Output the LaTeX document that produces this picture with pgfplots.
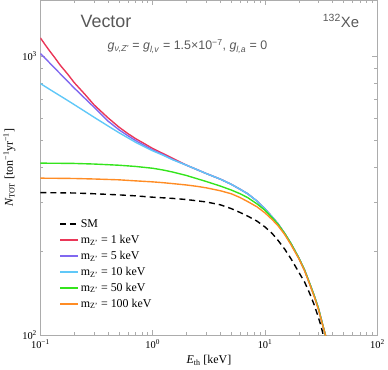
\documentclass[border=0pt]{standalone}
\usepackage{fontspec}
\setmainfont{Liberation Serif}
\newfontfamily\helv{Liberation Sans}
\usepackage{pgfplots}
\pgfplotsset{compat=1.18}
\definecolor{cred}{RGB}{234,55,88}
\definecolor{cpurple}{RGB}{128,104,240}
\definecolor{ccyan}{RGB}{96,200,248}
\definecolor{cgreen}{RGB}{52,228,28}
\definecolor{corange}{RGB}{255,140,36}
\definecolor{txtgray}{RGB}{88,88,88}

\begin{document}
\begin{tikzpicture}
\begin{axis}[
    scale only axis,
    width=339pt, height=337pt,
    xmode=log, ymode=log,
    xmin=0.1, xmax=100, ymin=100, ymax=1580,
    axis line style={gray!65, line width=0.6pt},
    tick style={gray!65, line width=0.5pt},
    tick align=inside,
    major tick length=5pt, minor tick length=3pt,
    xtick={0.1,1,10,100},
    xticklabels={10\textsuperscript{−1},10\textsuperscript{0},10\textsuperscript{1},10\textsuperscript{2}},
    minor xtick={0.2,0.3,0.4,0.5,0.6,0.7,0.8,0.9,2,3,4,5,6,7,8,9,20,30,40,50,60,70,80,90},
    ytick={100,1000},
    yticklabels={10\textsuperscript{2},10\textsuperscript{3}},
    minor ytick={200,300,400,500,600,700,800,900},
    ticklabel style={font=\fontsize{10.5}{12}\selectfont},
    xticklabel style={yshift=-1pt},
    xlabel={\textit{E}\textsubscript{th} [keV]},
    ylabel={\textit{N}\textsubscript{TOT} [ton\textsuperscript{−1}yr\textsuperscript{−1}]},
    label style={font=\fontsize{12}{14}\selectfont},
    legend style={draw=none, fill=none, at={(0.055,0.352)}, anchor=north west,
        font=\fontsize{12}{14}\selectfont, inner sep=0pt, row sep=2.2pt},
    legend cell align=left,
    legend image code/.code={\draw[#1, line width=1.8pt] (0pt,0pt) -- (18pt,0pt);},
]
\addplot[black, line width=1.4pt, dash pattern=on 6pt off 4pt] coordinates {
    (0.1,324)(0.15,323.5)(0.2,323)(0.3,321)(0.5,318)(0.7,315.5)(1,312)(1.5,309)
    (2,306)(3,300)(4,293)(5,284)(6,275)(7,267)(8.5,256)(10,244)(11.5,232)(13,219)
    (15,203)(17,188)(20,168)(22.5,155)(25,141)(27.5,128)(30,115)(31.5,108)(33,100)(35,90)
};
\addlegendentry{SM}
\addplot[cred, line width=1.4pt] coordinates {
    (0.1,1159)(0.11,1097)(0.12,1045)(0.135,982)(0.15,926)(0.175,860)(0.2,802)
    (0.25,727)(0.3,668)(0.4,600)(0.5,556)(0.6,527)(0.7,506)(0.85,484)(1,466)
    (1.25,446)(1.5,430)(2,406)(2.5,391)(3,379)(4,362)(5,347)(6,333)(7,321)
    (8.5,302)(10,283)(11.5,266)(13,251)(15,231)(17,213)(20,189)(22.5,171)
    (25,153)(27.5,138)(30,124)(32,112)(34.5,100)(36,93)
};
\addlegendentry{m\textsubscript{Z'} = 1 keV}
\addplot[cpurple, line width=1.4pt] coordinates {
    (0.1,1019)(0.11,981)(0.12,946)(0.135,901)(0.15,863)(0.175,810)(0.2,767)
    (0.25,703)(0.3,655)(0.4,584)(0.5,544)(0.6,518)(0.7,498)(0.85,477)(1,460)
    (1.25,442)(1.5,426)(2,406)(2.5,391)(3,379)(4,362)(5,347)(6,333)(7,321)
    (8.5,302)(10,283)(11.5,266)(13,251)(15,231)(17,213)(20,189)(22.5,171)
    (25,153)(27.5,138)(30,124)(32,112)(34.5,100)(36,93)
};
\addlegendentry{m\textsubscript{Z'} = 5 keV}
\addplot[ccyan, line width=1.4pt] coordinates {
    (0.1,796)(0.11,777)(0.12,760)(0.135,738)(0.15,719)(0.175,692)(0.2,669)
    (0.25,632)(0.3,603)(0.4,561)(0.5,531)(0.6,509)(0.7,491)(0.85,472)(1,457)
    (1.25,440)(1.5,425)(2,406)(2.5,391)(3,379)(4,362)(5,347)(6,333)(7,321)
    (8.5,302)(10,283)(11.5,266)(13,251)(15,231)(17,213)(20,189)(22.5,171)
    (25,153)(27.5,138)(30,124)(32,112)(34.5,100)(36,93)
};
\addlegendentry{m\textsubscript{Z'} = 10 keV}
\addplot[cgreen, line width=1.4pt] coordinates {
    (0.1,413)(0.15,412.5)(0.2,412)(0.3,410)(0.5,406)(0.7,402)(1,396)(1.25,390)
    (1.5,384)(2,373)(2.5,363)(3,355)(4,342)(5,331)(6,321)(7,311)(8.5,295)
    (10,280)(11.5,264)(13,250)(15,231)(17,213)(20,189)(22.5,171)
    (25,153)(27.5,138)(30,124)(32,112)(34.5,100)(36,93)
};
\addlegendentry{m\textsubscript{Z'} = 50 keV}
\addplot[corange, line width=1.4pt] coordinates {
    (0.1,365)(0.15,364.5)(0.2,364)(0.3,362.5)(0.5,360)(0.7,357)(1,354)(1.25,351.5)
    (1.5,349)(2,345)(2.5,341)(3,337)(4,329)(5,321)(6,311)(7,301)(8.5,288)
    (10,274)(11.5,260)(13,247)(15,229)(17,211)(20,188)(22.5,170)
    (25,152)(27.5,137)(30,123)(32,111.5)(34.5,100)(36,93)
};
\addlegendentry{m\textsubscript{Z'} = 100 keV}
\node[anchor=base west, text=txtgray, font=\helv\fontsize{18}{20}\selectfont]
    at (rel axis cs:0.109,0.92) {Vector};
\node[anchor=base east, text=txtgray, font=\helv\fontsize{15}{17}\selectfont]
    at (rel axis cs:0.956,0.92) {\textsuperscript{132}Xe};
\node[anchor=base west, text=txtgray, font=\helv\fontsize{12.5}{14}\selectfont]
    at (rel axis cs:0.189,0.852)
    {\textit{g}\textsubscript{\textit{ν,Z'}} = \textit{g}\textsubscript{\textit{l,v}} = 1.5×10\textsuperscript{−7}, \textit{g}\textsubscript{\textit{l,a}} = 0};
\end{axis}
\end{tikzpicture}
\end{document}
